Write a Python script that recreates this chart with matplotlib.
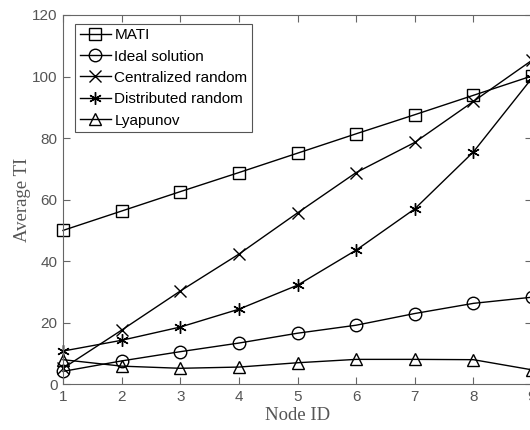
import numpy as np
import matplotlib.pyplot as plt

node_id = [1, 2, 3, 4, 5, 6, 7, 8, 9]
mati = [50.0, 56.3, 62.6, 68.8, 75.1, 81.4, 87.6, 93.9, 100.2]
ideal = [4.2, 7.6, 10.6, 13.4, 16.6, 19.2, 23.0, 26.3, 28.3]
central = [5.2, 17.6, 30.3, 42.3, 55.7, 68.8, 78.6, 91.9, 105.3]
distrib = [10.8, 14.3, 18.6, 24.4, 32.2, 43.6, 57.0, 75.5, 99.5]
lyap = [8.0, 5.9, 5.2, 5.6, 7.0, 8.1, 8.1, 8.0, 4.7]

series = [
    ("MATI", mati, "s"),
    ("Ideal solution", ideal, "o"),
    ("Centralized random", central, "x"),
    ("Distributed random", distrib, (6, 2, 0)),
    ("Lyapunov", lyap, "^"),
]

fig = plt.figure(figsize=(5.3, 4.3), dpi=100)
ax = fig.add_axes([63 / 530, 1 - 384.3 / 430, (532 - 63) / 530, (384.3 - 15) / 430])

for name, vals, mk in series:
    ax.plot(node_id, vals, color="black", lw=1.0, marker=mk, markersize=9,
            markerfacecolor="none", markeredgecolor="black", markeredgewidth=1.0,
            label=name, clip_on=False)

ax.set_xlim(1, 9)
ax.set_ylim(0, 120)
ax.set_xticks(node_id)
ax.set_yticks(np.arange(0, 121, 20))

gray = "#555555"
for s in ax.spines.values():
    s.set_color("#666666")
    s.set_linewidth(0.8)
ax.tick_params(direction="in", top=True, right=True, length=5, width=0.8,
               color="#666666", labelcolor=gray, labelsize=11, pad=4)
for lab in ax.get_xticklabels() + ax.get_yticklabels():
    lab.set_family("Liberation Sans")

ax.set_xlabel("Node ID", family="Liberation Serif", fontsize=13.5, color=gray, labelpad=2)
ax.set_ylabel("Average TI", family="Liberation Serif", fontsize=13.5, color=gray, labelpad=1)

leg = ax.legend(loc="upper left", bbox_to_anchor=(0.02, 0.985), fancybox=False,
                edgecolor="#555555", framealpha=1, handlelength=2.0, handletextpad=0.25,
                labelspacing=0.48, borderpad=0.3, borderaxespad=0.2,
                prop={"family": "Liberation Sans", "size": 11})
leg.get_frame().set_linewidth(0.8)

fig.savefig("out.png", dpi=100)
